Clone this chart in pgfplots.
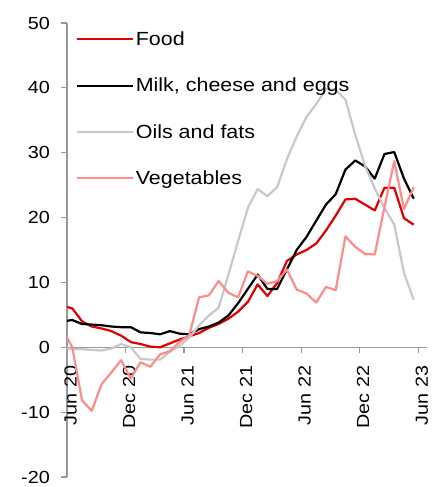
\documentclass[border=0pt]{standalone}
\usepackage{fontspec}
\setmainfont{Liberation Sans}[FakeStretch=1.13]
\usepackage{pgfplots}
\usepackage{pgfplotstable}
\pgfplotsset{compat=1.18}
\definecolor{foodred}{HTML}{E00000}
\definecolor{oilgray}{HTML}{C8C8C8}
\definecolor{vegpink}{HTML}{FF8C8C}
\definecolor{axisgray}{HTML}{999999}
\pgfplotstableread{
k food milk oils veg
0 6.4 4.0 0.0 2.8
1 6.0 4.2 -0.3 0.0
2 4.0 3.6 -0.3 -8.2
3 3.2 3.5 -0.4 -9.8
4 2.9 3.4 -0.5 -5.7
5 2.5 3.2 -0.2 -3.9
6 1.8 3.1 0.5 -2.0
7 0.8 3.1 0.0 -4.8
8 0.5 2.3 -1.8 -2.3
9 0.1 2.2 -1.9 -3.0
10 0.0 2.0 -1.9 -1.1
11 0.6 2.5 -0.7 -0.6
12 1.2 2.1 0.2 0.8
13 1.7 2.0 1.5 1.9
14 2.2 2.8 3.4 7.7
15 3.0 3.2 4.9 8.0
16 3.6 3.8 6.1 10.2
17 4.4 4.9 11.2 8.4
18 5.5 6.8 16.4 7.7
19 7.0 9.0 21.5 11.7
20 9.7 11.2 24.4 11.0
21 7.9 9.0 23.3 9.8
22 9.9 9.0 24.7 10.2
23 13.3 12.0 29.0 12.0
24 14.3 15.0 32.5 8.9
25 15.0 17.0 35.5 8.3
26 16.0 19.5 37.5 6.9
27 18.0 22.0 39.8 9.3
28 20.3 23.6 39.7 8.8
29 22.8 27.4 38.2 17.1
30 22.9 28.8 32.8 15.5
31 22.0 27.9 28.0 14.4
32 21.1 26.0 24.5 14.3
33 24.6 29.8 21.5 21.6
34 24.6 30.1 18.9 28.7
35 19.9 26.0 11.5 21.3
36 18.9 22.9 7.3 24.7
}\datatable
\begin{document}
\begin{tikzpicture}
\begin{axis}[name=ax, scale only axis, width=360pt, height=454pt,
  xmin=0, xmax=36.9, ymin=-20, ymax=50,
  axis x line=middle, axis y line=left,
  axis line style={-, color=axisgray, line width=1.2pt},
  xtick={0,6,...,36},
  xticklabels={Jun 20, Dec 20, Jun 21, Dec 21, Jun 22, Dec 22, Jun 23},
  ytick={-20,-10,...,50},
  yticklabels={-20,-10,0,10,20,30,40,50},
  tick style={color=axisgray, line width=1.2pt},
  major tick length=6pt, tick align=outside,
  xticklabel style={xshift=3.5pt, yshift=-9pt, rotate=90, anchor=east, font=\fontsize{17.5}{20}\selectfont},
  yticklabel style={xshift=-10pt, inner sep=1pt, font=\fontsize{17.5}{20}\selectfont},
  hide obscured x ticks=false, hide obscured y ticks=false,
  legend style={draw=none, fill=none, at={(0.015,0.99)}, anchor=north west,
    font=\fontsize{19}{22}\selectfont, row sep=27pt},
  legend cell align=left,
  legend image code/.code={\path (0pt,0pt) -- (56pt,0pt); \draw[#1, line width=2.2pt] (0pt,0pt) -- (52pt,0pt);},
  every axis plot/.append style={line width=2.2pt, line join=round},
]
\addplot[color=foodred] table[x expr=\thisrow{k}-0.46, y=food] {\datatable};
\addlegendentry{Food}
\addplot[color=black] table[x expr=\thisrow{k}-0.46, y=milk] {\datatable};
\addlegendentry{Milk, cheese and eggs}
\addplot[color=oilgray] table[x expr=\thisrow{k}-0.46, y=oils] {\datatable};
\addlegendentry{Oils and fats}
\addplot[color=vegpink] table[x expr=\thisrow{k}-0.46, y=veg] {\datatable};
\addlegendentry{Vegetables}
\end{axis}
\pgfresetboundingbox
\path ([shift={(-67pt,-10pt)}]ax.south west) rectangle ([shift={(5pt,23pt)}]ax.north east);
\end{tikzpicture}
\end{document}
